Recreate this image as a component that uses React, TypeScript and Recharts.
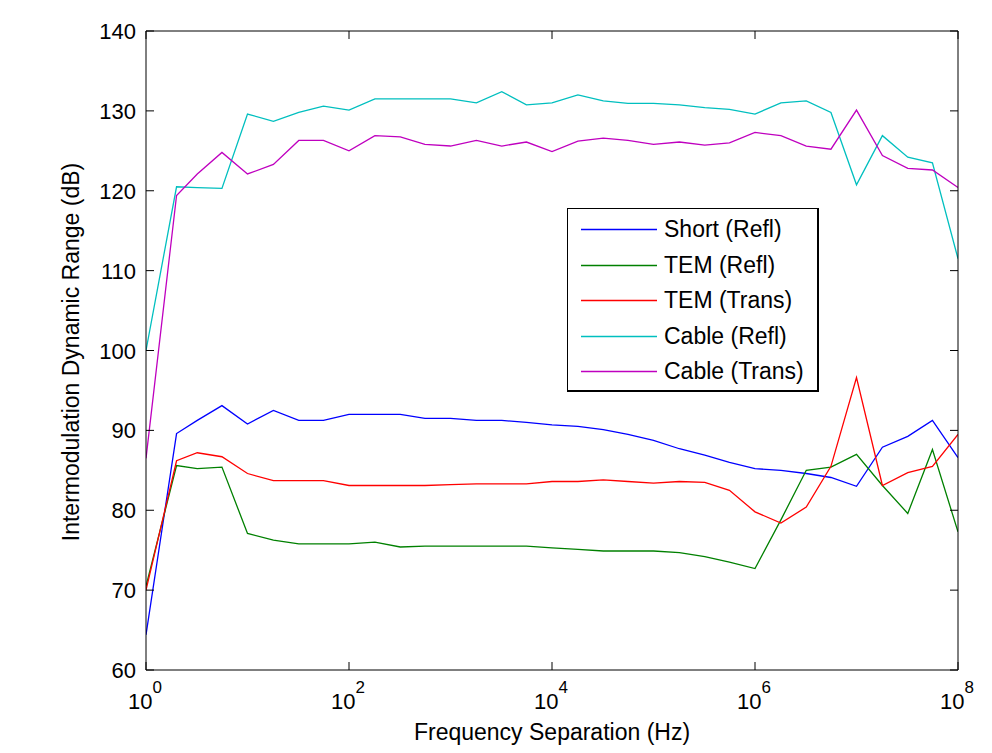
import React from 'react';
import { LineChart, Line, XAxis, YAxis, Legend } from 'recharts';

// Frequency separation (Hz), quarter-decade steps
const freqs = [
  1, 2, 3.2, 5.6, 10, 18, 32, 56, 100, 180, 320, 560,
  1e3, 1.8e3, 3.2e3, 5.6e3, 1e4, 1.8e4, 3.2e4, 5.6e4,
  1e5, 1.8e5, 3.2e5, 5.6e5, 1e6, 1.8e6, 3.2e6, 5.6e6,
  1e7, 1.8e7, 3.2e7, 5.6e7, 1e8,
];

const shortRefl = [
  64.4, 89.6, 91.25, 93.1, 90.8, 92.5, 91.25, 91.25, 92.0, 92.0, 92.0, 91.5,
  91.5, 91.25, 91.25, 91.0, 90.7, 90.5, 90.1, 89.5, 88.75, 87.7, 86.9, 86.0,
  85.2, 85.0, 84.6, 84.1, 83.0, 87.9, 89.25, 91.25, 86.6,
];

const temRefl = [
  70.5, 85.6, 85.2, 85.4, 77.1, 76.25, 75.8, 75.8, 75.8, 76.0, 75.4, 75.5,
  75.5, 75.5, 75.5, 75.5, 75.3, 75.1, 74.9, 74.9, 74.9, 74.7, 74.2, 73.5,
  72.7, 78.8, 85.0, 85.4, 87.0, 83.1, 79.6, 87.6, 77.3,
];

const temTrans = [
  70, 86.2, 87.2, 86.7, 84.6, 83.7, 83.7, 83.7, 83.1, 83.1, 83.1, 83.1,
  83.2, 83.3, 83.3, 83.3, 83.6, 83.6, 83.8, 83.6, 83.4, 83.6, 83.5, 82.5,
  79.8, 78.4, 80.4, 85.5, 96.6, 83.1, 84.7, 85.5, 89.5,
];

const cableRefl = [
  100, 120.5, 120.4, 120.3, 129.6, 128.7, 129.8, 130.6, 130.1, 131.5, 131.5, 131.5,
  131.5, 131.0, 132.4, 130.75, 131.0, 132.0, 131.25, 130.95, 130.95, 130.75, 130.4, 130.2,
  129.6, 131.0, 131.25, 129.8, 120.75, 126.9, 124.2, 123.5, 111.5,
];

const cableTrans = [
  86.5, 119.4, 122.1, 124.8, 122.1, 123.3, 126.3, 126.3, 125.0, 126.9, 126.75, 125.8,
  125.6, 126.3, 125.6, 126.1, 124.9, 126.2, 126.6, 126.3, 125.8, 126.1, 125.7, 126.0,
  127.3, 126.9, 125.6, 125.2, 130.1, 124.4, 122.8, 122.6, 120.4,
];

const yTicks = [60, 70, 80, 90, 100, 110, 120, 130, 140];
const xTicks = [1, 1e2, 1e4, 1e6, 1e8];
const xTickExponents = ['0', '2', '4', '6', '8'];

const xLabel = 'Frequency Separation (Hz)';
const yLabel = 'Intermodulation Dynamic Range (dB)';

const seriesList = [
  { key: 'shortRefl', name: 'Short (Refl)', color: '#0000FF', values: shortRefl },
  { key: 'temRefl', name: 'TEM (Refl)', color: '#008000', values: temRefl },
  { key: 'temTrans', name: 'TEM (Trans)', color: '#FF0000', values: temTrans },
  { key: 'cableRefl', name: 'Cable (Refl)', color: '#00BFBF', values: cableRefl },
  { key: 'cableTrans', name: 'Cable (Trans)', color: '#BF00BF', values: cableTrans },
];

const data = freqs.map((f, i) => {
  const row: Record<string, number> = { f };
  seriesList.forEach((s) => {
    row[s.key] = s.values[i];
  });
  return row;
});

const FONT = '"Liberation Sans", Arial, Helvetica, sans-serif';
const TICK_LEN = 8;

const LeftTick = (props: any) => {
  const { x, y, payload } = props;
  return (
    <g>
      <line x1={x} x2={x + TICK_LEN} y1={y} y2={y} stroke="#000" strokeWidth={1} />
      <text x={x - 10} y={y + 8} textAnchor="end" fontSize={22} fontFamily={FONT} fill="#000">
        {payload.value}
      </text>
    </g>
  );
};

const RightTick = (props: any) => {
  const { x, y } = props;
  return <line x1={x} x2={x - TICK_LEN} y1={y} y2={y} stroke="#000" strokeWidth={1} />;
};

const BottomTick = (props: any) => {
  const { x, y, index } = props;
  const exp = xTickExponents[index] ?? '';
  return (
    <g>
      <line x1={x} x2={x} y1={y} y2={y - TICK_LEN} stroke="#000" strokeWidth={1} />
      <text x={x - 1} y={y + 39} textAnchor="middle" fontSize={22} fontFamily={FONT} fill="#000">
        <tspan>10</tspan>
        <tspan fontSize={17} dy={-16}>{exp}</tspan>
      </text>
    </g>
  );
};

const TopTick = (props: any) => {
  const { x, y } = props;
  return <line x1={x} x2={x} y1={y} y2={y + TICK_LEN} stroke="#000" strokeWidth={1} />;
};

const LegendBox = () => (
  <div
    style={{
      position: 'relative',
      width: 252,
      height: 184,
      boxSizing: 'border-box',
      border: '1px solid #000',
      borderRightWidth: 2,
      borderBottomWidth: 2,
      background: '#fff',
    }}
  >
    <svg width={100} height={184} style={{ position: 'absolute', left: 0, top: 0 }}>
      {seriesList.map((s, i) => {
        const cy = Math.round(20 + i * 35.5) + 0.5;
        return <line key={s.key} x1={13} x2={89} y1={cy} y2={cy} stroke={s.color} strokeWidth={1.3} />;
      })}
    </svg>
    {seriesList.map((s, i) => (
      <div
        key={s.key}
        style={{
          position: 'absolute',
          left: 96,
          top: Math.round(20 + i * 35.5) - 15,
          height: 30,
          fontSize: 23,
          fontFamily: FONT,
          color: '#000',
          whiteSpace: 'nowrap',
          lineHeight: '30px',
        }}
      >
        {s.name}
      </div>
    ))}
  </div>
);

export default function App() {
  return (
    <div style={{ margin: -8, width: 992, height: 753, position: 'relative', background: '#fff' }}>
      <LineChart
        width={992}
        height={753}
        data={data}
        margin={{ top: 30, right: 33, bottom: 0, left: 0 }}
        style={{ fontFamily: FONT }}
      >
        <XAxis
          xAxisId="b"
          dataKey="f"
          type="number"
          scale="log"
          domain={[1, 1e8]}
          allowDataOverflow
          ticks={xTicks}
          interval={0}
          height={83}
          tickSize={0}
          tickMargin={0}
          tickLine={false}
          axisLine={{ stroke: '#000', strokeWidth: 1 }}
          tick={<BottomTick />}
          label={{
            value: xLabel,
            position: 'insideBottom',
            offset: 13,
            fontSize: 23,
            fontFamily: FONT,
            fill: '#000',
          }}
        />
        <XAxis
          xAxisId="t"
          orientation="top"
          dataKey="f"
          type="number"
          scale="log"
          domain={[1, 1e8]}
          allowDataOverflow
          ticks={xTicks}
          interval={0}
          height={1}
          tickSize={0}
          tickMargin={0}
          tickLine={false}
          axisLine={{ stroke: '#000', strokeWidth: 1 }}
          tick={<TopTick />}
        />
        <YAxis
          yAxisId="l"
          type="number"
          domain={[60, 140]}
          allowDataOverflow
          ticks={yTicks}
          interval={0}
          width={146}
          tickSize={0}
          tickMargin={0}
          tickLine={false}
          axisLine={{ stroke: '#000', strokeWidth: 1 }}
          tick={<LeftTick />}
          label={{
            content: () => (
              <text
                transform="translate(79,352) rotate(-90)"
                textAnchor="middle"
                fontSize={23}
                fontFamily={FONT}
                fill="#000"
              >
                {yLabel}
              </text>
            ),
          }}
        />
        <YAxis
          yAxisId="r"
          orientation="right"
          type="number"
          domain={[60, 140]}
          allowDataOverflow
          ticks={yTicks}
          interval={0}
          width={1}
          tickSize={0}
          tickMargin={0}
          tickLine={false}
          axisLine={{ stroke: '#000', strokeWidth: 1 }}
          tick={<RightTick />}
        />
        {seriesList.map((s) => (
          <Line
            key={s.key}
            xAxisId="b"
            yAxisId="l"
            type="linear"
            dataKey={s.key}
            name={s.name}
            stroke={s.color}
            strokeWidth={1.3}
            dot={false}
            activeDot={false}
            isAnimationActive={false}
          />
        ))}
        <Legend
          layout="vertical"
          align="center"
          verticalAlign="middle"
          content={<LegendBox />}
          wrapperStyle={{ position: 'absolute', left: 567, top: 208, width: 252, height: 184 }}
        />
      </LineChart>
      <div
        style={{
          position: 'absolute',
          left: 6,
          top: 7,
          width: 986,
          height: 746,
          borderLeft: '1px solid #000',
          borderTop: '1px solid #000',
          pointerEvents: 'none',
          zIndex: 2,
        }}
      />
    </div>
  );
}
